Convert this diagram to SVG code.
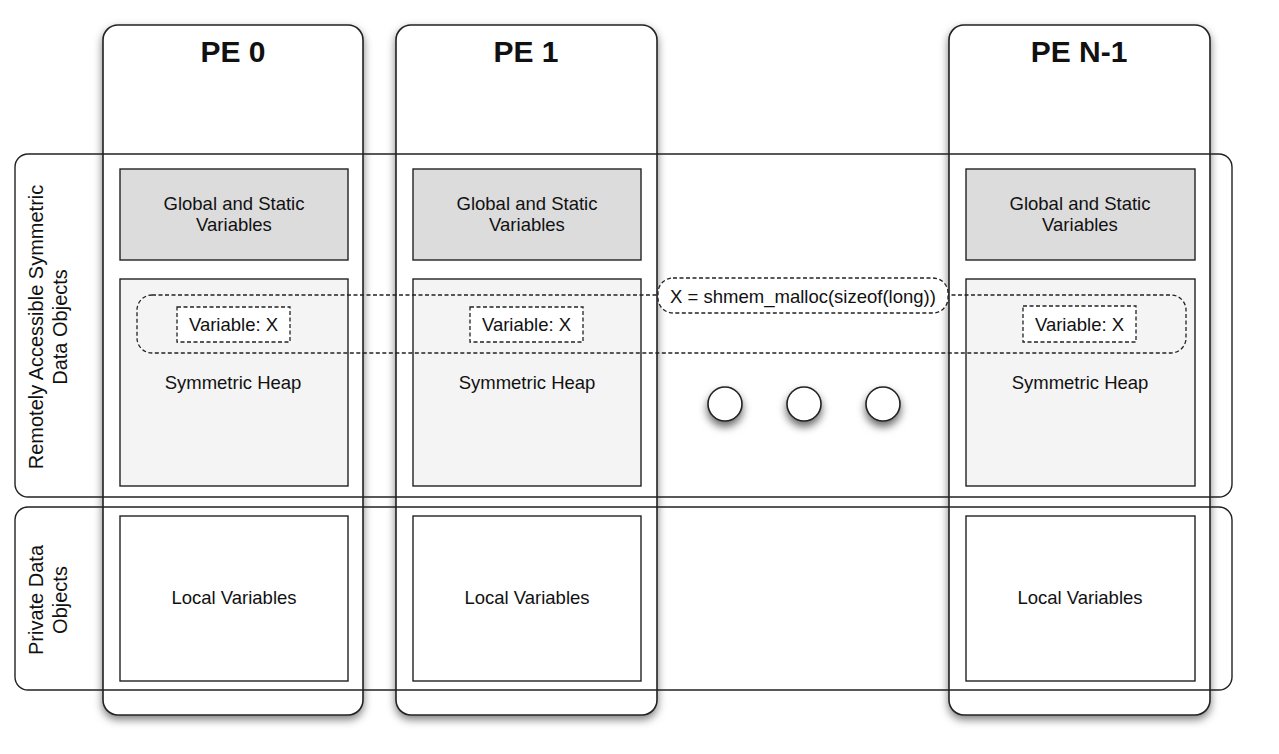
<svg xmlns="http://www.w3.org/2000/svg" width="1279" height="754" viewBox="0 0 1279 754">
<defs>
<filter id="sh" x="-20%" y="-10%" width="140%" height="120%">
<feDropShadow dx="0" dy="4" stdDeviation="4" flood-color="#000" flood-opacity="0.5"/>
</filter>
<filter id="shc" x="-60%" y="-60%" width="220%" height="240%">
<feDropShadow dx="0" dy="5" stdDeviation="4" flood-color="#000" flood-opacity="0.6"/>
</filter>
<style>
.col{fill:#fff;stroke:#222;stroke-width:1.6;}
.band{fill:none;stroke:#222;stroke-width:1.4;}
.glob{fill:#dcdcdc;stroke:#222;stroke-width:1.4;}
.heap{fill:#f4f4f4;stroke:#222;stroke-width:1.4;}
.loc{fill:#fff;stroke:#222;stroke-width:1.4;}
.dash{fill:none;stroke:#222;stroke-width:1.3;stroke-dasharray:4 2.5;}
.dashw{fill:#fff;stroke:#222;stroke-width:1.3;stroke-dasharray:4 2.5;}
.dot{fill:#fff;stroke:#222;stroke-width:1.6;}
text{font-family:"Liberation Sans",Arial,sans-serif;fill:#111;}
.t{font-size:18.5px;text-anchor:middle;}
.h{font-size:30px;font-weight:bold;text-anchor:middle;}
.side{font-size:20px;text-anchor:middle;}
</style>
</defs>

<g id="pe0">
<rect class="col" x="103" y="25" width="260" height="690" rx="15" filter="url(#sh)"/>
<text class="h" x="233" y="62">PE 0</text>
</g>
<g id="pe1">
<rect class="col" x="396" y="25" width="261" height="690" rx="15" filter="url(#sh)"/>
<text class="h" x="526" y="62">PE 1</text>
</g>
<g id="pen1">
<rect class="col" x="949" y="25" width="261" height="690" rx="15" filter="url(#sh)"/>
<text class="h" x="1079" y="62">PE N-1</text>
</g>

<g id="band-remote">
<rect class="band" x="15" y="154" width="1217" height="343" rx="13"/>
<text class="side" transform="translate(43,327) rotate(-90)">Remotely Accessible Symmetric</text>
<text class="side" transform="translate(67,327) rotate(-90)">Data Objects</text>
</g>
<g id="band-private">
<rect class="band" x="15" y="507" width="1217" height="183" rx="13"/>
<text class="side" transform="translate(43,600) rotate(-90)">Private Data</text>
<text class="side" transform="translate(67,600) rotate(-90)">Objects</text>
</g>

<g id="pe0-global">
<rect class="glob" x="120" y="169" width="228" height="91"/>
<text class="t" x="234" y="209.5">Global and Static</text>
<text class="t" x="234" y="230.5">Variables</text>
</g>
<g id="pe1-global">
<rect class="glob" x="413" y="169" width="228" height="91"/>
<text class="t" x="527" y="209.5">Global and Static</text>
<text class="t" x="527" y="230.5">Variables</text>
</g>
<g id="pen1-global">
<rect class="glob" x="966" y="169" width="229" height="91"/>
<text class="t" x="1080" y="209.5">Global and Static</text>
<text class="t" x="1080" y="230.5">Variables</text>
</g>

<g id="pe0-heap">
<rect class="heap" x="120" y="279" width="228" height="207"/>
<text class="t" x="233" y="388.5">Symmetric Heap</text>
</g>
<g id="pe1-heap">
<rect class="heap" x="413" y="279" width="228" height="207"/>
<text class="t" x="527" y="388.5">Symmetric Heap</text>
</g>
<g id="pen1-heap">
<rect class="heap" x="966" y="279" width="229" height="207"/>
<text class="t" x="1080" y="388.5">Symmetric Heap</text>
</g>

<g id="pe0-local">
<rect class="loc" x="120" y="516" width="228" height="165"/>
<text class="t" x="234" y="603.5">Local Variables</text>
</g>
<g id="pe1-local">
<rect class="loc" x="413" y="516" width="228" height="165"/>
<text class="t" x="527" y="603.5">Local Variables</text>
</g>
<g id="pen1-local">
<rect class="loc" x="966" y="516" width="229" height="165"/>
<text class="t" x="1080" y="603.5">Local Variables</text>
</g>

<g id="symmetric-group">
<rect class="dash" x="137" y="295" width="1049" height="58" rx="15"/>
</g>

<g id="var0">
<rect class="dashw" x="177" y="307" width="113" height="35"/>
<text class="t" x="233.5" y="331">Variable: X</text>
</g>
<g id="var1">
<rect class="dashw" x="470" y="307" width="113" height="35"/>
<text class="t" x="526.5" y="331">Variable: X</text>
</g>
<g id="varn1">
<rect class="dashw" x="1023" y="306" width="113" height="36"/>
<text class="t" x="1079.5" y="330.5">Variable: X</text>
</g>

<g id="malloc">
<rect class="dashw" x="658" y="278" width="290" height="35" rx="15"/>
<text class="t" x="803" y="302.5">X = shmem_malloc(sizeof(long))</text>
</g>

<g id="ellipsis">
<circle class="dot" cx="725" cy="404" r="17" filter="url(#shc)"/>
<circle class="dot" cx="804" cy="404" r="17" filter="url(#shc)"/>
<circle class="dot" cx="883" cy="404" r="17" filter="url(#shc)"/>
</g>
</svg>
